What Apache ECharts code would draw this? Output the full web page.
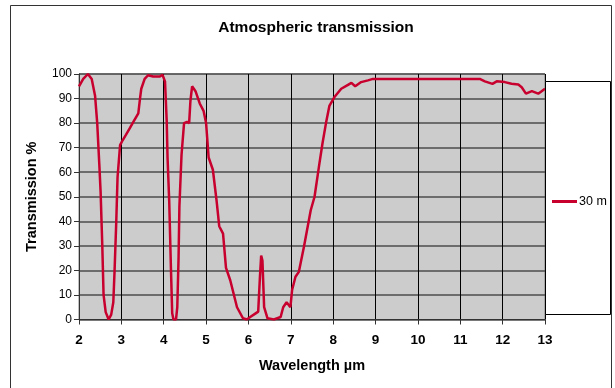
<!DOCTYPE html>
<html><head><meta charset="utf-8">
<script src="https://cdn.jsdelivr.net/npm/echarts@6/dist/echarts.min.js"></script>
<style>html,body{margin:0;padding:0;background:#fff}#c{width:615px;height:388px}</style>
</head><body><div id="c"></div>
<script>
const titleText = 'Atmospheric transmission';
const xAxisTitle = 'Wavelength µm';
const yAxisTitle = 'Transmission %';
const seriesName = '30 m';
const wavelength = [2.00,2.10,2.21,2.30,2.38,2.43,2.48,2.51,2.55,2.58,2.63,2.70,2.76,2.81,2.84,2.88,2.91,2.97,3.03,3.10,3.20,3.30,3.40,3.44,3.47,3.55,3.63,3.75,3.91,3.97,4.03,4.07,4.09,4.13,4.17,4.20,4.23,4.29,4.32,4.35,4.37,4.42,4.48,4.55,4.60,4.63,4.67,4.75,4.85,4.94,5.00,5.06,5.16,5.25,5.31,5.40,5.47,5.57,5.73,5.87,5.96,6.05,6.17,6.23,6.27,6.30,6.33,6.37,6.45,6.60,6.76,6.82,6.90,6.99,7.03,7.11,7.19,7.31,7.47,7.56,7.67,7.75,7.83,7.91,8.03,8.19,8.35,8.43,8.52,8.66,8.82,8.94,11.46,11.58,11.76,11.86,12.05,12.21,12.37,12.45,12.55,12.69,12.84,13.00];
const transmission = [95,98,100,98,91,80,63,52,30,10,3,0,2,7,20,40,58,71,73,75,78,81,84,90,94,98,99.5,99,99,99.7,97,81,66,48,21,2.5,0,0,5,25,46,67,80,80.5,80,89,95,93,88,85,80,66,61,48,38,35,21,16,5,0.5,0,1.1,2.5,3.2,17,26,24,5,0.5,0,1,5,7,5,12,17.4,19.4,29.6,44.5,50,63,72,80,87,90.6,94,95.6,96.4,95,96.7,97.4,98,98,97,96,97,96.7,96,95.7,94.6,92,93,92,94];
const xTicks = [2,13,1];
const yTicks = [0,100,10];

const chart = echarts.init(document.getElementById('c'), null, {renderer:'canvas'});
const font = '"Liberation Sans", Arial, sans-serif';
chart.setOption({
  animation:false,
  backgroundColor:'#fff',
  textStyle:{fontFamily:font},
  title:{text:titleText,left:311,textAlign:'center',top:15,textStyle:{fontSize:15.5,fontWeight:'bold',color:'#000',fontFamily:font}},
  graphic:[
    {type:'rect',shape:{x:10.5,y:5.5,width:601,height:400},style:{fill:'none',stroke:'#333',lineWidth:1},z:-1,silent:true},
    {type:'rect',shape:{x:545.5,y:81.5,width:65,height:233},style:{fill:'#fff',stroke:'#000',lineWidth:1},z:5,silent:true}
  ],
  legend:{data:[{name:seriesName,icon:'rect'}],left:547,top:190,itemWidth:25,itemHeight:3,itemGap:3,z:10,
    textStyle:{fontSize:12.5,color:'#000',fontFamily:font,padding:[0,0,0,-3]}},
  grid:{left:79,right:70,top:74,bottom:68.5,show:true,backgroundColor:'#cccccc',borderColor:'#808080',borderWidth:1},
  xAxis:{type:'value',min:xTicks[0],max:xTicks[1],interval:xTicks[2],
    name:xAxisTitle,nameLocation:'middle',nameGap:39,
    nameTextStyle:{fontSize:14.5,fontWeight:'bold',color:'#000',fontFamily:font},
    axisLine:{show:true,lineStyle:{color:'#333',width:1}},
    axisTick:{show:true,length:5,lineStyle:{color:'#333'}},
    axisLabel:{fontSize:13.5,fontWeight:'bold',color:'#000',margin:14,fontFamily:font},
    splitLine:{show:true,lineStyle:{color:'#000',width:1}}},
  yAxis:{type:'value',min:yTicks[0],max:yTicks[1],interval:yTicks[2],
    name:yAxisTitle,nameLocation:'middle',nameGap:40,
    nameTextStyle:{fontSize:14.5,fontWeight:'bold',color:'#000',fontFamily:font},
    axisLine:{show:true,lineStyle:{color:'#333',width:1}},
    axisTick:{show:true,length:5,lineStyle:{color:'#333'}},
    axisLabel:{fontSize:12,color:'#000',margin:7,fontFamily:font},
    splitLine:{show:true,lineStyle:{color:'#4d4d4d',width:1.5}}},
  series:[{name:seriesName,type:'line',showSymbol:false,symbol:'none',smooth:false,
    lineStyle:{color:'#c8002e',width:2.5},itemStyle:{color:'#c8002e'},
    data:wavelength.map((w,i)=>[w,transmission[i]])}]
});
</script></body></html>
